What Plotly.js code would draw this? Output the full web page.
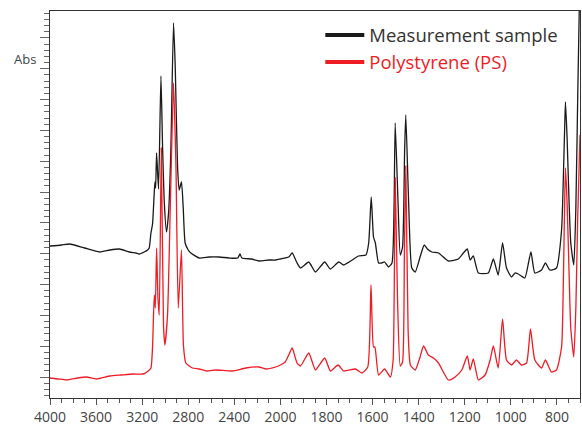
<!DOCTYPE html>
<html>
<head>
<meta charset="utf-8">
<script src="https://cdn.plot.ly/plotly-3.0.1.min.js"></script>
<style>html,body{margin:0;padding:0;background:#fff;}#chart{width:582px;height:434px;}</style>
</head>
<body>
<div id="chart"></div>
<script>
// Wavenumbers (cm-1) and absorbance (arbitrary units)
const sampleWavenumber = [4000,3900,3830,3700,3571,3480,3398,3312,3254,3225,3182,3153,3139,3124,3110,3095,3089,3083,3075,3058,3037,3023,3009,2989,2971,2951,2928,2913,2893,2879,2859,2844,2827,2800,2778,2706,2619,2532,2446,2370,2351,2335,2250,2186,2100,2040,2000,
  1964,1949,1930,1913,1877,1848,1808,1783,1747,1726,1695,1661,1629,1617,1606,1596,1588,1574,1561,1548,1531,1516,1507,1502,1490,1480,1470,1461,1456,1444,1430,1415,1394,1376,1362,1343,1314,1271,1228,1206,1189,1177,1163,1141,1098,1076,1055,1036,1019,997,982,968,955,939,913,896,867,850,831,802,780,770,766,763,756,748,740,727,718,710,700];
const sampleAbs = [1.52,1.53,1.54,1.50,1.46,1.48,1.49,1.46,1.45,1.44,1.46,1.48,1.50,1.65,1.74,2.06,2.16,2.10,2.45,2.09,3.22,2.51,1.98,1.66,1.85,2.48,3.75,3.31,2.31,2.08,2.16,1.91,1.55,1.48,1.45,1.40,1.41,1.41,1.40,1.40,1.44,1.40,1.39,1.37,1.38,1.38,1.39,
  1.41,1.45,1.36,1.30,1.36,1.26,1.36,1.29,1.36,1.33,1.37,1.42,1.43,1.55,2.01,1.61,1.55,1.35,1.35,1.36,1.31,1.35,1.90,2.75,1.98,1.43,1.51,2.48,2.83,1.98,1.30,1.26,1.41,1.53,1.49,1.46,1.45,1.37,1.39,1.45,1.49,1.38,1.42,1.25,1.25,1.39,1.23,1.55,1.30,1.21,1.25,1.24,1.22,1.20,1.46,1.25,1.28,1.35,1.28,1.30,1.68,2.40,2.75,2.96,2.60,2.00,1.55,1.33,1.90,3.00,4.30];

const psWavenumber = [4000,3930,3856,3760,3683,3596,3480,3380,3278,3192,3148,3124,3110,3095,3086,3075,3063,3052,3034,3015,3003,2980,2951,2928,2907,2887,2859,2842,2821,2764,2706,2640,2561,2417,2301,2186,2128,2042,2000,
  1979,1964,1949,1928,1913,1877,1848,1808,1783,1750,1726,1675,1646,1621,1607,1596,1590,1574,1548,1523,1511,1502,1492,1480,1470,1462,1456,1446,1436,1415,1394,1379,1358,1336,1314,1271,1242,1213,1189,1177,1163,1141,1112,1090,1076,1055,1036,1019,997,976,954,932,915,896,867,850,824,802,780,772,767,763,756,748,740,727,718,710,700];
const psAbs = [0.20,0.19,0.18,0.20,0.21,0.19,0.22,0.23,0.24,0.24,0.27,0.30,0.51,1.03,0.90,1.50,1.00,0.83,2.50,0.73,0.53,0.83,2.16,3.15,2.33,0.90,1.48,0.53,0.35,0.30,0.29,0.27,0.28,0.27,0.30,0.31,0.29,0.31,0.33,
  0.36,0.43,0.50,0.35,0.32,0.45,0.28,0.40,0.27,0.33,0.27,0.29,0.25,0.31,1.13,0.51,0.51,0.23,0.29,0.21,0.38,2.20,1.00,0.32,0.36,1.48,2.32,0.68,0.33,0.28,0.41,0.52,0.43,0.40,0.35,0.18,0.21,0.28,0.42,0.28,0.39,0.18,0.23,0.38,0.52,0.30,0.79,0.38,0.33,0.38,0.33,0.35,0.69,0.38,0.30,0.38,0.26,0.28,0.51,1.20,1.90,2.30,1.95,1.30,0.70,0.41,0.90,1.80,2.63];

const tickLabels = [4000,3600,3200,2800,2400,2000,1800,1600,1400,1200,1000,800];
const seriesNames = ['Measurement sample','Polystyrene (PS)'];
const seriesColors = ['#1a1a1a','#ee1c25'];

// x axis scale: below 2000 cm-1 the scale is expanded two-fold
function axisX(w){ return w >= 2000 ? w : 2*w - 2000; }

const traces = [
  {x: sampleWavenumber.map(axisX), y: sampleAbs, type:'scatter', mode:'lines',
   line:{color:seriesColors[0], width:1.3, shape:'spline', smoothing:0.5}, showlegend:false, hoverinfo:'skip'},
  {x: psWavenumber.map(axisX), y: psAbs, type:'scatter', mode:'lines',
   line:{color:seriesColors[1], width:1.3, shape:'spline', smoothing:0.5}, showlegend:false, hoverinfo:'skip'},
  {x:[null], y:[null], type:'scatter', mode:'lines', name: seriesNames[0],
   line:{color:seriesColors[0], width:4}},
  {x:[null], y:[null], type:'scatter', mode:'lines',
   name: '<span style="color:'+seriesColors[1]+'">'+seriesNames[1]+'</span>',
   line:{color:seriesColors[1], width:4}}
];

const layout = {
  width:582, height:434,
  margin:{l:50, r:2, t:11, b:36},
  paper_bgcolor:'#fff', plot_bgcolor:'#fff',
  font:{family:'"Open Sans", "Noto Sans", sans-serif', color:'#444', size:14},
  showlegend:true,
  legend:{x:0.51, y:0.986, xanchor:'left', yanchor:'top', bgcolor:'rgba(0,0,0,0)',
          font:{size:18.5, color:'#333'}, itemwidth:39, tracegroupgap:0},
  xaxis:{range:[axisX(4000), axisX(700)], tickmode:'array',
         tickvals: tickLabels.map(axisX), ticktext: tickLabels.map(String),
         ticks:'outside', ticklen:6, tickcolor:'#555', tickwidth:1,
         minor:{tickmode:'linear', tick0:0, dtick:100, ticks:'outside', ticklen:4, tickcolor:'#555'},
         showline:true, linecolor:'#333', linewidth:1, mirror:true,
         showgrid:false, zeroline:false, tickfont:{size:14, color:'#444'}},
  yaxis:{range:[0,3.87], tickmode:'linear', tick0:0.21, dtick:0.3082,
         ticks:'outside', ticklen:9, tickcolor:'#666', tickwidth:1,
         minor:{tickmode:'linear', tick0:0.21, dtick:0.06164, ticks:'outside', ticklen:5, tickcolor:'#666'},
         showticklabels:false, showline:true, linecolor:'#333', linewidth:1, mirror:true,
         showgrid:false, zeroline:false},
  annotations:[
    {text:'Abs', xref:'paper', yref:'paper', x:-0.047, y:0.876, xanchor:'center', yanchor:'middle',
     showarrow:false, font:{size:13, color:'#444'}},
    {text:'cm-1', xref:'paper', yref:'paper', x:0.972, y:-0.077, xanchor:'center', yanchor:'top',
     showarrow:false, font:{size:13, color:'#444'}}
  ]
};

Plotly.newPlot('chart', traces, layout, {displayModeBar:false, staticPlot:true});
</script>
</body>
</html>
